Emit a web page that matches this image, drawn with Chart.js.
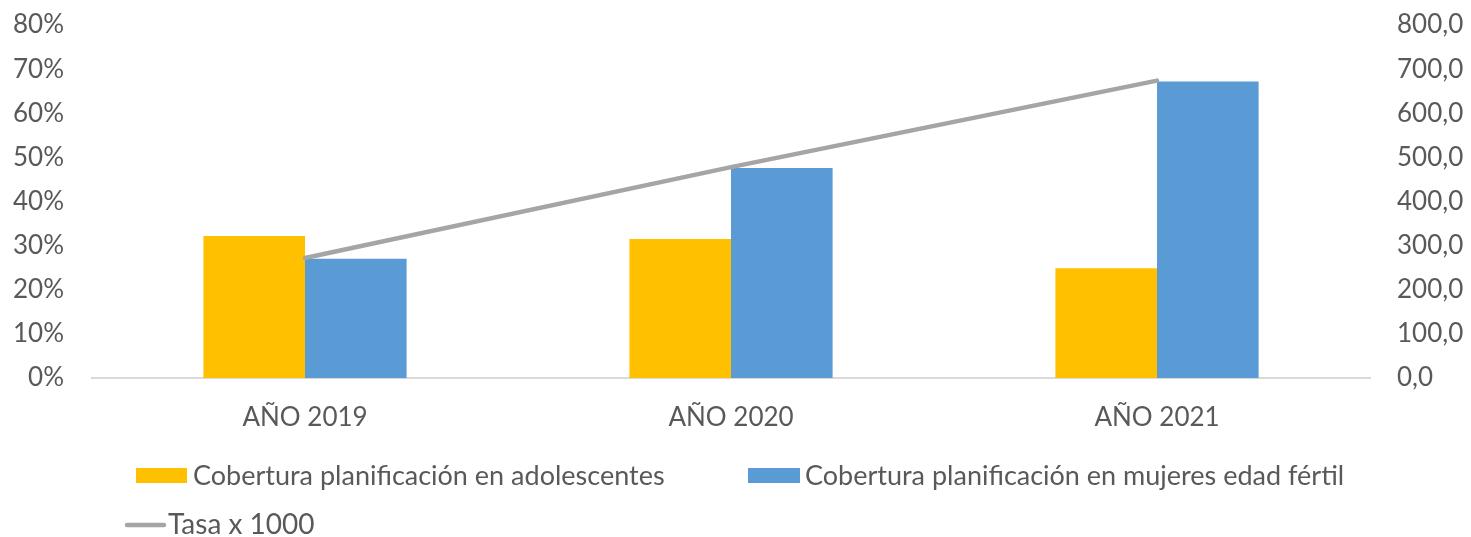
<!DOCTYPE html>
<html>
<head>
<meta charset="utf-8">
<script src="https://cdn.jsdelivr.net/npm/chart.js@4"></script>
<style>
  html, body { margin: 0; padding: 0; background: #ffffff; }
  #wrap { width: 1471px; height: 537px; position: relative; }
</style>
</head>
<body>
<div id="wrap"><canvas id="c"></canvas></div>
<script>
const categories = ['AÑO 2019', 'AÑO 2020', 'AÑO 2021'];
const adolescentes = [32.2, 31.5, 24.9];   // %
const mujeresFertil = [27.0, 47.6, 67.2];  // %
const tasa1000 = [272, 478, 674];          // right axis
const seriesNames = ['Cobertura planificación en adolescentes', 'Cobertura planificación en mujeres edad fértil', 'Tasa x 1000'];

const FONT = 'Lato, "Open Sans", sans-serif';
const TXT = '#595959';

const legendPlugin = {
  id: 'excelLegend',
  afterDraw(chart) {
    const ctx = chart.ctx;
    const ds = chart.data.datasets;
    ctx.save();
    ctx.font = '27px ' + FONT;
    ctx.fillStyle = TXT;
    ctx.textBaseline = 'middle';
    ctx.textAlign = 'left';
    const items = [
      {d: ds[1], bx: 136, by: 468, bw: 51, bh: 15, tx: 193, ty: 476},
      {d: ds[2], bx: 748, by: 468, bw: 52, bh: 15, tx: 805, ty: 476}
    ];
    items.forEach(it => {
      ctx.fillStyle = it.d.backgroundColor;
      ctx.fillRect(it.bx, it.by, it.bw, it.bh);
      ctx.fillStyle = TXT;
      ctx.fillText(it.d.label, it.tx, it.ty);
    });
    ctx.strokeStyle = ds[0].borderColor;
    ctx.lineWidth = 4.5;
    ctx.lineCap = 'round';
    ctx.beginPath();
    ctx.moveTo(127, 525);
    ctx.lineTo(164, 525);
    ctx.stroke();
    ctx.fillStyle = TXT;
    ctx.font = '28px ' + FONT;
    ctx.fillText(ds[0].label, 168, 525);
    ctx.restore();
  }
};

function fixV(w) {
  return function (s) { s.width = w; s.paddingTop = 0; s.paddingBottom = 0; };
}

new Chart(document.getElementById('c'), {
  data: {
    labels: categories,
    datasets: [
      {
        type: 'line', label: seriesNames[2], data: tasa1000, yAxisID: 'y1',
        borderColor: '#A5A5A5', backgroundColor: '#A5A5A5', borderWidth: 4.5,
        borderCapStyle: 'round', pointRadius: 0, tension: 0, order: 0
      },
      {
        type: 'bar', label: seriesNames[0], data: adolescentes, yAxisID: 'y',
        backgroundColor: '#FFC000', order: 1,
        categoryPercentage: 0.477, barPercentage: 1.0
      },
      {
        type: 'bar', label: seriesNames[1], data: mujeresFertil, yAxisID: 'y',
        backgroundColor: '#5B9BD5', order: 1,
        categoryPercentage: 0.477, barPercentage: 1.0
      }
    ]
  },
  options: {
    responsive: true,
    maintainAspectRatio: false,
    animation: false,
    layout: { padding: { top: 25, bottom: 98, left: 0, right: 0 } },
    plugins: { legend: { display: false }, tooltip: { enabled: false } },
    scales: {
      x: {
        grid: { display: false },
        border: { display: true, color: '#D9D9D9', width: 2 },
        ticks: { color: TXT, font: { family: FONT, size: 26 }, padding: 16, maxRotation: 0 },
        afterFit(s) { s.height = 61; s.paddingLeft = 0; s.paddingRight = 0; }
      },
      y: {
        position: 'left', min: 0, max: 80,
        grid: { display: false }, border: { display: false },
        ticks: { stepSize: 10, color: TXT, font: { family: FONT, size: 26 }, padding: 20,
                 callback: v => v + '%' },
        afterFit: fixV(92)
      },
      y1: {
        position: 'right', min: 0, max: 800,
        grid: { display: false }, border: { display: false },
        ticks: { stepSize: 100, color: TXT, font: { family: FONT, size: 26 }, padding: 19,
                 callback: v => v.toFixed(1).replace('.', ',') },
        afterFit: fixV(101)
      }
    }
  },
  plugins: [legendPlugin]
});
</script>
</body>
</html>
